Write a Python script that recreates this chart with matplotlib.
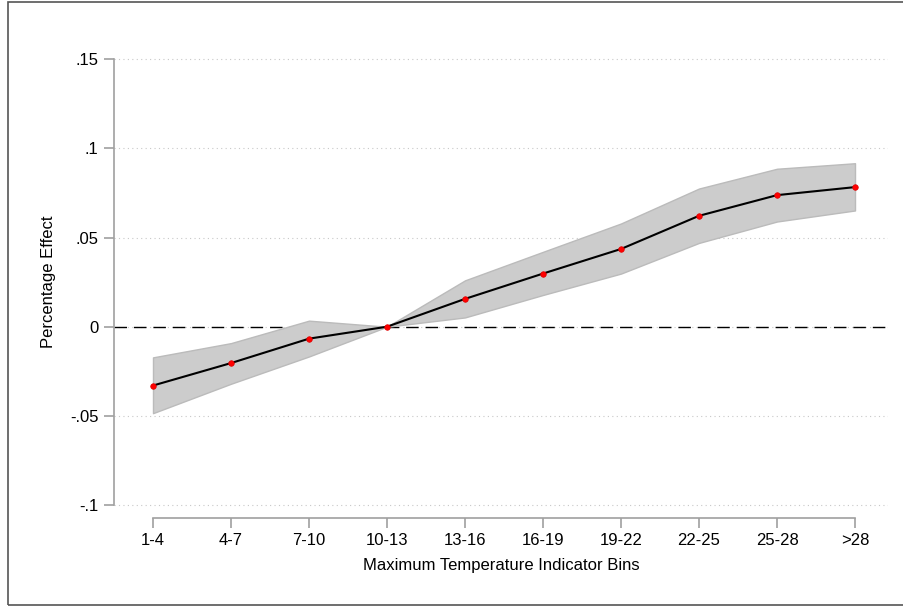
import matplotlib.pyplot as plt
from matplotlib.patches import Rectangle

plt.rcParams['font.family'] = ['Liberation Sans', 'DejaVu Sans']

# Temperature bins and estimated effects with confidence band
bins = ["1-4", "4-7", "7-10", "10-13", "13-16", "16-19", "19-22", "22-25", "25-28", ">28"]
effect = [-0.033, -0.0204, -0.0067, 0.0, 0.0156, 0.0298, 0.0436, 0.0622, 0.0738, 0.0783]
ci_low = [-0.0485, -0.032, -0.0167, 0.0, 0.0052, 0.0178, 0.0298, 0.047, 0.059, 0.0652]
ci_high = [-0.0172, -0.0092, 0.0034, 0.0, 0.026, 0.042, 0.0579, 0.0775, 0.0886, 0.0917]
yticks = [-0.1, -0.05, 0, 0.05, 0.1, 0.15]
ytick_labels = ["-.1", "-.05", "0", ".05", ".1", ".15"]

fig = plt.figure(figsize=(9.04, 6.06), dpi=100)
ax = fig.add_axes([0.1261, 0.1452, 0.8562, 0.7805])

x = list(range(len(bins)))

# grid and reference line
for yv in yticks:
    ax.axhline(yv, color="#c8c8c8", lw=0.8, ls=(0, (1, 3)), zorder=0)
ax.axhline(0, color="black", lw=1.0, ls=(0, (9, 5)), zorder=1)

ax.fill_between(x, ci_low, ci_high, facecolor="#cccccc", edgecolor="#bbbbbb", lw=1.0, zorder=2)
ax.plot(x, effect, color="black", lw=1.5, zorder=3)
ax.plot(x, effect, "o", color="red", ms=4, mec="#dd0000", mew=0.5, zorder=4)

ax.set_xlim(-0.5, 9.423)
ax.set_ylim(-0.1073, 0.158)
ax.set_xticks(x)
ax.set_xticklabels(bins)
ax.set_yticks(yticks)
ax.set_yticklabels(ytick_labels)

for side in ["top", "right"]:
    ax.spines[side].set_visible(False)
ax.spines["left"].set_bounds(-0.1, 0.15)
ax.spines["bottom"].set_bounds(0, 9)
for side in ["left", "bottom"]:
    ax.spines[side].set_color("#a0a0a0")
    ax.spines[side].set_linewidth(1.2)

ax.tick_params(axis="both", colors="#a0a0a0", length=7, width=1.2, labelsize=12, labelcolor="black")
ax.tick_params(axis="y", pad=4)
ax.tick_params(axis="x", pad=4)

ax.set_xlabel("Maximum Temperature Indicator Bins", fontsize=12, labelpad=7)
ax.set_ylabel("Percentage Effect", fontsize=12, labelpad=10)

# outer frame
fig.patches.append(Rectangle((8 / 904, 1 / 606), 900 / 904, 603 / 606, transform=fig.transFigure,
                             fill=False, edgecolor="#555555", lw=1.2))

fig.savefig("out.png", dpi=100)
